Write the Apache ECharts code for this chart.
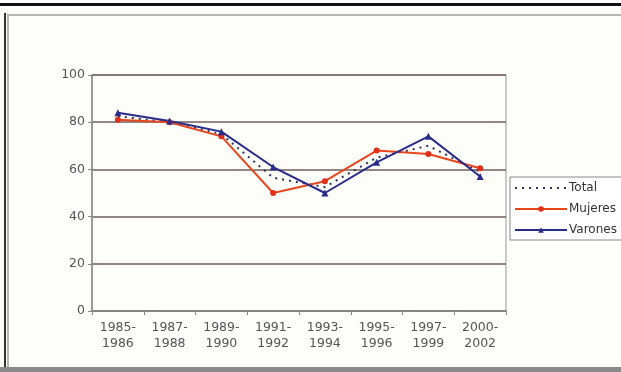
<!DOCTYPE html>
<html><head><meta charset="utf-8">
<script src="https://cdn.jsdelivr.net/npm/echarts@6/dist/echarts.min.js"></script>
<style>html,body{margin:0;padding:0;background:#fff}#c{width:621px;height:372px}</style>
</head><body><div id="c"></div>
<script>
const categories = ['1985-\n1986','1987-\n1988','1989-\n1990','1991-\n1992','1993-\n1994','1995-\n1996','1997-\n1999','2000-\n2002'];
const total = [82.5, 80, 75, 56.5, 52.5, 65, 70, 59];
const mujeres = [81, 80, 74, 50, 55, 68, 66.5, 60.5];
const varones = [84, 80.5, 76, 61, 50, 63, 74, 57];
const yTicks = {min: 0, max: 100, interval: 20};

const chart = echarts.init(document.getElementById('c'));
chart.setOption({
  backgroundColor: '#fdfdfa',
  animation: false,
  graphic: [
    {type:'rect', shape:{x:0,y:3,width:621,height:3}, style:{fill:'#111'}},
    {type:'rect', shape:{x:4,y:13,width:2,height:359}, style:{fill:'#333'}},
    {type:'rect', shape:{x:8,y:15,width:620,height:360}, style:{fill:'none', stroke:'#b8b4b4', lineWidth:2}},
    {type:'rect', shape:{x:0,y:367,width:621,height:5}, style:{fill:'#8a8a8a'}},
    {type:'rect', shape:{x:92,y:75,width:414,height:236}, style:{fill:'none', stroke:'#999', lineWidth:1}}
  ],
  grid: {left: 92, top: 75, right: 115, bottom: 61, containLabel: false},
  legend: {
    orient: 'vertical', left: 510, top: 177,
    backgroundColor: '#fff', borderColor: '#888', borderWidth: 1,
    padding: [5, 20, 4, 4], itemGap: 9, itemWidth: 52, itemHeight: 7,
    textStyle: {fontFamily: 'DejaVu Sans', fontSize: 12, color: '#333', padding: [0,0,0,-3]},
    data: [
      {name: 'Total', itemStyle: {opacity: 0}},
      {name: 'Mujeres'},
      {name: 'Varones'}
    ]
  },
  xAxis: {
    type: 'category', data: categories, boundaryGap: true,
    axisLine: {lineStyle: {color: '#888', width: 1.5}},
    axisTick: {show: true, length: 4, lineStyle: {color: '#888'}},
    axisLabel: {fontFamily: 'DejaVu Sans', fontSize: 12.5, color: '#555', lineHeight: 16, margin: 9, interval: 0}
  },
  yAxis: {
    type: 'value', min: yTicks.min, max: yTicks.max, interval: yTicks.interval,
    axisLine: {show: true, lineStyle: {color: '#888', width: 1.5}},
    axisTick: {show: true, length: 4, lineStyle: {color: '#888'}},
    axisLabel: {fontFamily: 'DejaVu Sans', fontSize: 12.5, color: '#555', margin: 7},
    splitLine: {lineStyle: {color: '#6e5c5c', width: 1.5}}
  },
  series: [
    {name: 'Total', type: 'line', data: total, symbol: 'none',
     lineStyle: {color: '#30305a', width: 2, type: [2, 5]}, itemStyle: {color: '#30305a'}},
    {name: 'Mujeres', type: 'line', data: mujeres, symbol: 'circle', symbolSize: 6,
     lineStyle: {color: '#e8461c', width: 2}, itemStyle: {color: '#e0301a'}},
    {name: 'Varones', type: 'line', data: varones, symbol: 'triangle', symbolSize: 7,
     lineStyle: {color: '#2a2c8a', width: 2}, itemStyle: {color: '#2a2c8a'}}
  ]
});
</script></body></html>
